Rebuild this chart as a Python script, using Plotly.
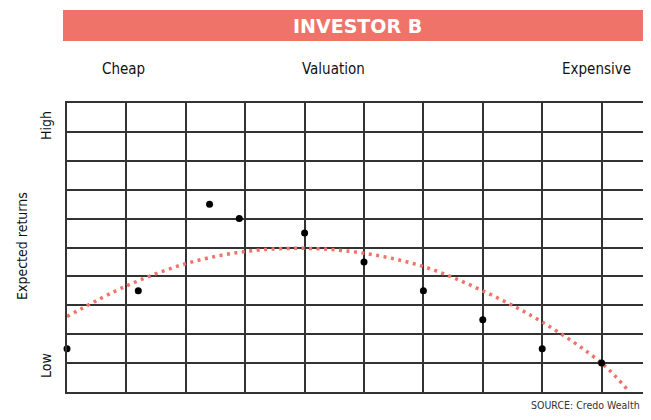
import plotly.graph_objects as go

# valuation position (grid columns) and expected return (grid rows) of each holding
val_x = [0, 1.2, 2.4, 2.9, 4.0, 5.0, 6.0, 7.0, 8.0, 9.0]
ret_y = [1.5, 3.5, 6.5, 6.0, 5.5, 4.5, 3.5, 2.5, 1.5, 1.0]

# dotted trend curve
trend_x = [0, 1, 2, 3, 4, 5, 6, 7, 8, 9, 9.47]
trend_y = [2.61, 3.67, 4.44, 4.86, 4.97, 4.80, 4.34, 3.50, 2.42, 1.00, 0.0]

x_labels = ['Cheap', 'Valuation', 'Expensive']
y_labels = ['High', 'Expected returns', 'Low']

RED = '#EF7368'
GRID = '#333333'
NARROW = 'DejaVu Sans Condensed, Roboto, sans-serif'

# the page body adds an 8px margin, so the figure is kept small enough not to
# overflow the window; positions below are window pixels -> paper fractions
PLOT_L, PLOT_B, PLOT_W, PLOT_H = 67, 392, 576, 289


def px(x):
    return (x - PLOT_L) / PLOT_W


def py(y):
    return (PLOT_B - y) / PLOT_H


fig = go.Figure()

fig.add_trace(go.Scatter(x=trend_x, y=trend_y,
                         mode='lines',
                         line={'color': RED, 'width': 3.5, 'dash': '3px,4.5px', 'shape': 'spline'},
                         hoverinfo='skip',
                         showlegend=False))
fig.add_trace(go.Scatter(x=val_x, y=ret_y,
                         mode='markers',
                         marker={'color': 'black', 'size': 7},
                         cliponaxis=False,
                         showlegend=False))

fig.update_xaxes(range=[0, PLOT_W / 59.4], dtick=1, tick0=0,
                 showgrid=True, gridcolor=GRID, gridwidth=1.5,
                 showline=True, mirror=True, linecolor=GRID, linewidth=2,
                 zeroline=False, showticklabels=False, ticks='')
fig.update_yaxes(range=[0, 10], dtick=1, tick0=0,
                 showgrid=True, gridcolor=GRID, gridwidth=1.5,
                 showline=True, linecolor=GRID, linewidth=2,
                 zeroline=False, showticklabels=False, ticks='')

# banner
fig.add_shape(type='rect', xref='paper', yref='paper',
              x0=px(63), x1=1.0, y0=py(41), y1=py(10),
              fillcolor=RED, line={'width': 0}, layer='below')
fig.add_annotation(text='<b>INVESTOR B</b>', xref='paper', yref='paper',
                   x=px(357), y=py(26), xanchor='center', yanchor='middle',
                   showarrow=False,
                   font={'family': 'DejaVu Sans', 'size': 19, 'color': 'white'})

# valuation labels
for lab, lx in zip(x_labels, [123, 333, 596]):
    fig.add_annotation(text=lab, xref='paper', yref='paper',
                       x=px(lx), y=py(69), xanchor='center', yanchor='middle',
                       showarrow=False,
                       font={'family': NARROW, 'size': 15, 'color': '#111111'})

# return labels
for lab, lx, ly in zip(y_labels, [46, 22, 46], [126, 246, 366]):
    fig.add_annotation(text=lab, xref='paper', yref='paper', textangle=-90,
                       x=px(lx), y=py(ly), xanchor='center', yanchor='middle',
                       showarrow=False,
                       font={'family': NARROW, 'size': 14, 'color': '#111111'})

fig.add_annotation(text='SOURCE: Credo Wealth', xref='paper', yref='paper',
                   x=px(642), y=py(405), xanchor='right', yanchor='middle',
                   showarrow=False,
                   font={'family': NARROW, 'size': 10.5, 'color': '#333333'})

fig.update_layout(width=635, height=404,
                  margin=dict(l=59, r=0, t=95, b=20),
                  plot_bgcolor='white', paper_bgcolor='white',
                  showlegend=False)

fig.write_html('out.html')
